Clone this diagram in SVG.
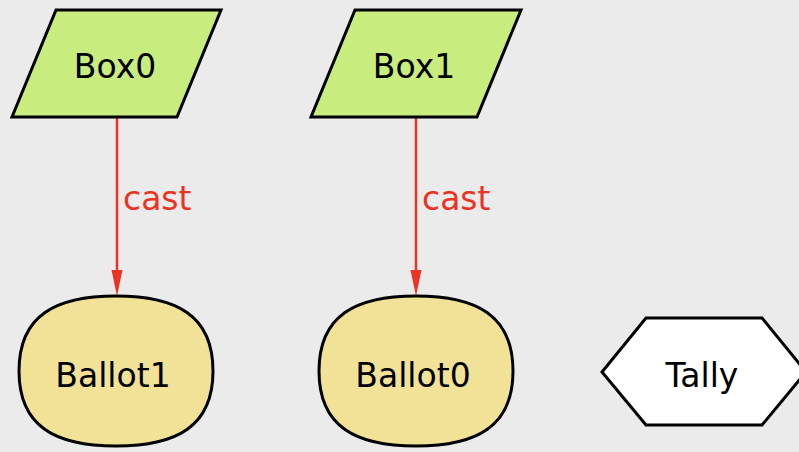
<svg xmlns="http://www.w3.org/2000/svg" width="799" height="452" viewBox="0 0 799 452">
  <style>
    .box { fill: #c8ec7e; stroke: #000; stroke-width: 3; stroke-linejoin: miter; }
    .ballot { fill: #f2e297; stroke: #000; stroke-width: 3; }
    .tally { fill: #fff; stroke: #000; stroke-width: 3; }
    .label { font-family: "DejaVu Sans", sans-serif; font-size: 33px; fill: #000; text-anchor: middle; }
    .edge { stroke: #ec3323; stroke-width: 2.5; fill: none; }
    .edge-label { font-family: "DejaVu Sans", sans-serif; font-size: 33px; fill: #ec3323; }
  </style>
  <rect width="799" height="452" fill="#ebebeb"/>

  <g id="edges">
    <g id="edge-box0-ballot1">
      <line class="edge" x1="117" y1="117" x2="117" y2="271"/>
      <path d="M111.5,270 L122.5,270 L117,296 Z" fill="#ec3323"/>
      <text class="edge-label" x="123" y="210">cast</text>
    </g>
    <g id="edge-box1-ballot0">
      <line class="edge" x1="416" y1="117" x2="416" y2="271"/>
      <path d="M410.5,270 L421.5,270 L416,296 Z" fill="#ec3323"/>
      <text class="edge-label" x="422" y="210">cast</text>
    </g>
  </g>

  <g id="Box0">
    <polygon class="box" points="56,10 221,10 177,117 12,117"/>
    <text class="label" x="115" y="78">Box0</text>
  </g>
  <g id="Box1">
    <polygon class="box" points="355,10 521,10 477,117 311,117"/>
    <text class="label" x="414" y="78">Box1</text>
  </g>

  <g id="Ballot1">
    <path class="ballot" d="M116,296 C176,296 213,315 213,371 C213,427 176,446 116,446 C56,446 19,427 19,371 C19,315 56,296 116,296 Z"/>
    <text class="label" x="113" y="387">Ballot1</text>
  </g>
  <g id="Ballot0">
    <path class="ballot" d="M416,296 C476,296 513,315 513,371 C513,427 476,446 416,446 C356,446 319,427 319,371 C319,315 356,296 416,296 Z"/>
    <text class="label" x="413" y="387">Ballot0</text>
  </g>

  <g id="Tally">
    <polygon class="tally" points="602,372 646,318 762,318 806,372 762,425 646,425"/>
    <text class="label" x="702" y="387">Tally</text>
  </g>
</svg>
